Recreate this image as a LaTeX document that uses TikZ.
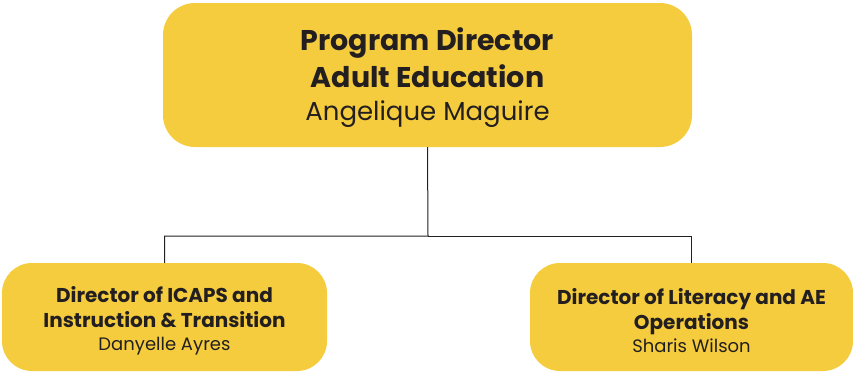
\documentclass[tikz,border=0pt]{standalone}
\usepackage{fontspec}
\setmainfont{Poppins}
\definecolor{boxyellow}{HTML}{F5CC3E}
\definecolor{inkgray}{HTML}{231F20}
\usetikzlibrary{positioning}
\tikzset{
  rolebox/.style={fill=boxyellow, rounded corners=32pt, text=inkgray, align=center, inner sep=0pt},
  wire/.style={draw=inkgray, line width=1pt}
}
% strut that pushes a text block down inside its box
\newcommand{\toppad}[1]{\rule{0pt}{#1}}
\begin{document}
\begin{tikzpicture}[x=1pt,y=-1pt]
\useasboundingbox (0,0) rectangle (853,372);
\node[rolebox, minimum width=529pt, minimum height=144pt,
      font={\fontsize{28.5}{37}\selectfont\bfseries}] (pd) at (427.5,75)
  {\toppad{29pt}Program Director\\Adult Education\\[-4pt]
   {\fontsize{26}{32}\mdseries\selectfont Angelique Maguire}};
\node[rolebox, rounded corners=30pt, minimum width=325pt, minimum height=108pt,
      font={\fontsize{20}{25}\selectfont\bfseries}] (icaps) at (164.5,317)
  {\toppad{23pt}Director of ICAPS and\\Instruction \& Transition\\[-2pt]
   {\fontsize{18}{23}\mdseries\selectfont Danyelle Ayres}};
\node[rolebox, rounded corners=30pt, minimum width=323pt, minimum height=108pt,
      font={\fontsize{20}{25}\selectfont\bfseries}] (lit) at (691.5,317)
  {\toppad{23pt}Director of Literacy and AE\\Operations\\[-2pt]
   {\fontsize{18}{23}\mdseries\selectfont Sharis Wilson}};

\coordinate (bus) at (428,236);
\draw[wire] (pd.south) -- (bus) -| (icaps.north);
\draw[wire] (bus) -| (lit.north);
\end{tikzpicture}
\end{document}
